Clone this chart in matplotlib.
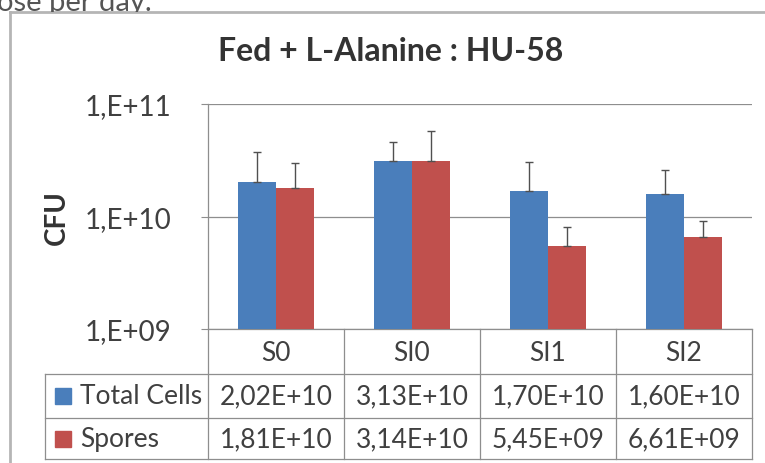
import matplotlib
matplotlib.use("Agg")
import matplotlib.pyplot as plt
import numpy as np
from matplotlib.transforms import blended_transform_factory, Bbox, TransformedBbox
from matplotlib.lines import Line2D
from matplotlib.patches import Rectangle

categories = ["S0", "SI0", "SI1", "SI2"]
series_names = ["Total Cells", "Spores"]
total_cells = [2.02e10, 3.13e10, 1.70e10, 1.60e10]
spores = [1.81e10, 3.14e10, 5.45e9, 6.61e9]
total_err = [1.7e10, 1.43e10, 1.33e10, 0.99e10]
spores_err = [1.2e10, 2.58e10, 2.67e9, 2.57e9]
total_labels = ["2,02E+10", "3,13E+10", "1,70E+10", "1,60E+10"]
spores_labels = ["1,81E+10", "3,14E+10", "5,45E+09", "6,61E+09"]
ytick_vals = [1e9, 1e10, 1e11]
ytick_labels = ["1,E+09", "1,E+10", "1,E+11"]

BLUE = "#4A7EBB"
RED = "#C0504D"
GRID = "#8E8E8E"
TXT = "#404040"

plt.rcParams['font.family'] = ['Lato', 'DejaVu Sans']

W, H = 765, 464
fig = plt.figure(figsize=(W / 100, H / 100), dpi=100)
fig.patch.set_facecolor("white")

def fx(px):
    return px / W

def fy(py):
    return 1 - py / H

ax_l, ax_r, ax_t, ax_b = 208, 752, 105, 330
ax = fig.add_axes([fx(ax_l), fy(ax_b), (ax_r - ax_l) / W, (ax_b - ax_t) / H])
ax.set_yscale("log")
ax.set_ylim(1e9, 1e11)
ax.set_xlim(-0.5, len(categories) - 0.5)

x = np.arange(len(categories))
bw = 0.283
ax.bar(x - bw / 2, total_cells, width=bw, color=BLUE, zorder=3)
ax.bar(x + bw / 2, spores, width=bw, color=RED, zorder=3)
ax.errorbar(x - bw / 2, total_cells, yerr=[np.zeros(4), total_err], fmt="none",
            ecolor="#505050", elinewidth=1.0, capsize=3, capthick=1.0, zorder=4)
ax.errorbar(x + bw / 2, spores, yerr=[np.zeros(4), spores_err], fmt="none",
            ecolor="#505050", elinewidth=1.0, capsize=3, capthick=1.0, zorder=4)

ax.set_yticks(ytick_vals)
ax.set_yticklabels(ytick_labels)
ax.yaxis.set_minor_locator(matplotlib.ticker.NullLocator())
ax.set_xticks([])
ax.tick_params(axis="y", length=5, color=GRID, pad=21, labelsize=20, labelcolor=TXT)
ax.grid(axis="y", color=GRID, linewidth=0.9, zorder=0)
for s in ["top", "right"]:
    ax.spines[s].set_visible(False)
ax.spines["left"].set_color(GRID)
ax.spines["bottom"].set_color(GRID)
ax.spines["left"].set_linewidth(0.9)
ax.spines["bottom"].set_linewidth(0.9)

# Data table below the axes
trans = blended_transform_factory(ax.transData, fig.transFigure)
ftr = fig.transFigure
row_lines = [375, 419, 460]
leg_left = 45
tab_right = ax_r
for ry in row_lines:
    fig.add_artist(Line2D([fx(leg_left), fx(tab_right)], [fy(ry), fy(ry)], color=GRID, lw=0.9))
for b in np.arange(-0.5, len(categories), 1.0):
    fig.add_artist(Line2D([b, b], [fy(ax_b), fy(row_lines[-1])], color=GRID, lw=0.9, transform=trans))
fig.add_artist(Line2D([fx(leg_left), fx(leg_left)], [fy(row_lines[0]), fy(row_lines[-1])], color=GRID, lw=0.9))

fs_tab = 19
for i, c in enumerate(categories):
    fig.text(x[i], fy((ax_b + row_lines[0]) / 2 + 1), c, transform=trans, ha="center", va="center",
             fontsize=fs_tab, color=TXT)
    fig.text(x[i], fy((row_lines[0] + row_lines[1]) / 2), total_labels[i], transform=trans,
             ha="center", va="center", fontsize=fs_tab, color=TXT)
    fig.text(x[i], fy((row_lines[1] + row_lines[2]) / 2), spores_labels[i], transform=trans,
             ha="center", va="center", fontsize=fs_tab, color=TXT)

for j, (name, col) in enumerate(zip(series_names, [BLUE, RED])):
    cy = (row_lines[j] + row_lines[j + 1]) / 2
    fig.add_artist(Rectangle((fx(55), fy(cy + 8)), fx(16), 16 / H, color=col, transform=ftr))
    fig.text(fx(80), fy(cy), name, ha="left", va="center", fontsize=fs_tab, color=TXT)

# Titles
fig.text(fx(391), fy(52), "Fed + L-Alanine : HU-58", ha="center", va="center",
         fontsize=23, fontweight="bold", color="#333333")
fig.text(fx(57), fy(218), "CFU", ha="center", va="center", rotation=90,
         fontsize=20, fontweight="bold", color="#333333")

# Surrounding frame and cropped document text
fig.add_artist(Line2D([fx(10), fx(765)], [fy(12.5), fy(12.5)], color="#B5B5B5", lw=2))
fig.add_artist(Line2D([fx(10), fx(10)], [fy(12.5), fy(464)], color="#B5B5B5", lw=2))
doc = fig.text(fx(-3), fy(11.5), "ose per day.", ha="left", va="baseline", fontsize=21, color="#555555")
doc.set_clip_box(TransformedBbox(Bbox([[0, fy(12.5)], [1, 1]]), fig.transFigure))
doc.set_clip_on(True)

fig.savefig("out.png", dpi=100, facecolor="white")
